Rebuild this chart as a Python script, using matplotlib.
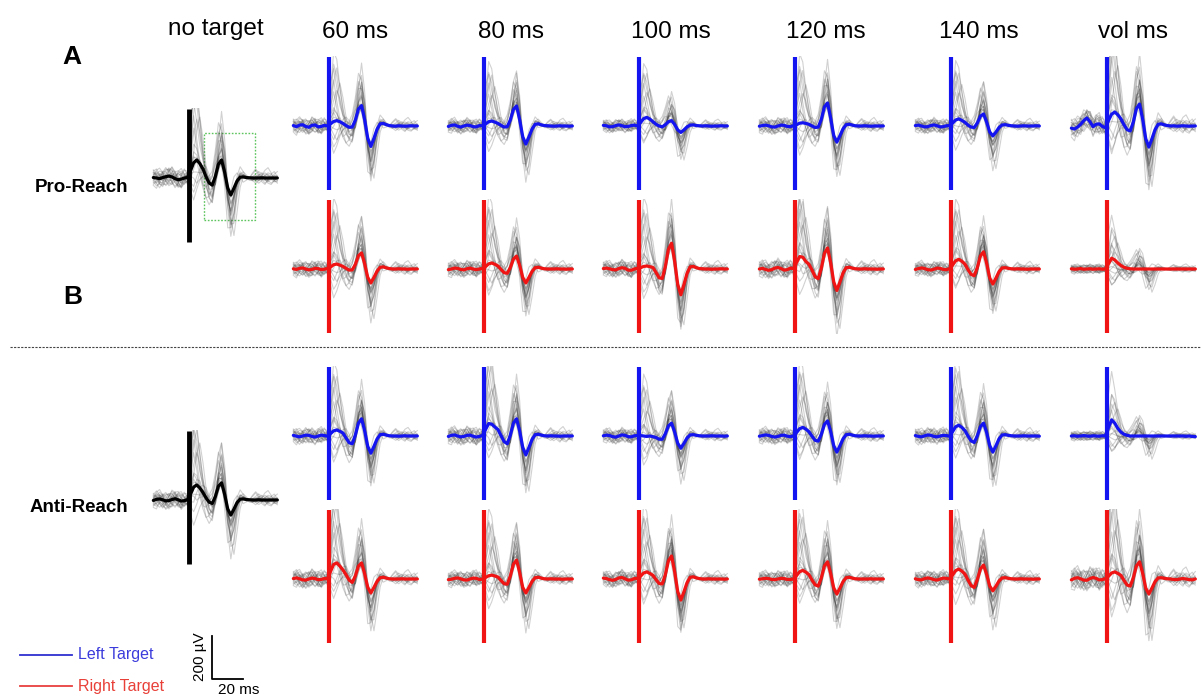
import numpy as np
import matplotlib
matplotlib.use('Agg')
import matplotlib.pyplot as plt
from matplotlib.patches import Rectangle

plt.rcParams['font.family'] = ['Liberation Sans', 'DejaVu Sans']

# ---------------- data ----------------
time_ms = [-23, -21, -19, -17, -15, -13, -11, -9, -7, -5, -3, -1,
           1, 3, 5, 7, 9, 11, 13, 15, 17, 19, 21, 23, 25, 27, 29, 31, 33, 35, 37, 39,
           41, 43, 45, 47, 49, 51, 53, 55, 57]

conditions = ['60 ms', '80 ms', '100 ms', '120 ms', '140 ms', 'vol ms']
row_labels = ['Pro-Reach', 'Anti-Reach']
panel_letters = ['A', 'B']
legend_labels = ['Left Target', 'Right Target']
scale_uv = 200
scale_ms = 20
artifact_uv = (-298, 321)

pro_left_60 = [2, -3, 4, 6, -2, -6, 3, 5, -4, -2, 3, 0, 10, 21, 25, 20, 12, 2, -6, -5, 27, 79, 95, 29, -57, -95, -57, -15, 10, 12, 6, 2, 0, -1, 1, 0, -1, 0, 1, 0, 0]
pro_left_80 = [-2, 3, 5, -1, -5, 0, 4, 2, -3, -4, 2, 1, 9, 20, 23, 18, 12, 3, -5, -3, 28, 77, 93, 29, -50, -84, -50, -14, 8, 10, 5, 2, 1, 0, -1, 0, 1, 0, 0, -1, 0]
pro_left_100 = [3, 1, -4, -3, 2, 5, 1, -3, -2, 2, 4, 0, 16, 34, 40, 32, 20, 8, 0, -4, 6, 20, 25, 7, -18, -30, -18, -4, 4, 5, 2, 1, 0, 1, 0, -1, 0, 0, 1, 0, 0]
pro_left_120 = [-1, 2, 4, 1, -4, -5, 0, 4, 3, -2, -3, 1, 6, 13, 15, 12, 8, 0, -7, -5, 31, 89, 107, 37, -45, -75, -45, -13, 6, 8, 4, 1, 0, 0, 1, 0, -1, 0, 0, 0, 0]
pro_left_140 = [2, 4, 0, -4, -3, 2, 5, 1, -4, -3, 1, 2, 13, 28, 33, 26, 17, 4, -5, -7, 14, 46, 56, 18, -28, -46, -28, -7, 5, 6, 3, 1, 0, -1, 0, 1, 0, 0, 0, 1, 0]
pro_left_vol = [-10, -14, -5, 8, 25, 37, 20, -3, 8, 10, -2, -8, 26, 55, 65, 52, 33, 5, -17, -23, 19, 81, 102, 31, -59, -98, -59, -17, 8, 10, 5, 2, 0, 1, -1, 0, 1, 0, -1, 0, 0]

pro_right_60 = [1, -2, 3, 5, 0, -4, -2, 3, 2, -3, -1, 2, 9, 20, 23, 18, 12, 3, -5, -4, 21, 62, 75, 24, -39, -65, -39, -10, 8, 10, 5, 2, 0, 0, 1, 0, 0, -1, 0, 0, 0]
pro_right_80 = [-3, 0, 4, 3, -2, -4, 1, 4, 0, -3, 0, 2, 11, 24, 28, 22, 14, -2, -17, -20, 7, 46, 60, 17, -39, -65, -39, -11, 6, 8, 4, 1, 0, 0, 0, 1, 0, 0, -1, 0, 0]
pro_right_100 = [2, 4, 1, -3, -4, 2, 6, 3, -5, -6, 0, 3, 6, 12, 14, 11, 7, -16, -41, -44, 12, 92, 120, 36, -72, -120, -72, -20, 10, 12, 6, 2, 1, 0, 0, -1, 0, 0, 1, 0, 0]
pro_right_120 = [0, 3, -2, -6, -3, 4, 7, 2, -5, -3, 4, 2, 30, 58, 55, 35, 22, -5, -36, -45, 4, 73, 98, 29, -60, -100, -60, -18, 6, 8, 4, 1, 0, 0, 1, 0, 0, 0, -1, 0, 0]
pro_right_140 = [-2, 2, 5, 2, -3, -5, -1, 4, 3, -2, -3, 1, 18, 38, 45, 36, 23, -3, -25, -31, 7, 61, 80, 26, -42, -70, -42, -12, 5, 6, 3, 1, 0, 1, 0, 0, -1, 0, 0, 0, 0]
pro_right_vol = [1, -1, 0, 2, -1, 0, 1, -1, 0, 1, -1, 0, 25, 50, 42, 28, 16, 8, 3, 1, 0, 0, 0, 0, 0, 0, 0, 0, 0, 0, 0, 0, 0, 0, 0, 0, 0, 0, 0, 0, 0]

anti_left_60 = [3, -1, -4, 0, 4, 3, -2, -5, 0, 4, 2, -1, 11, 24, 28, 22, 14, -9, -31, -36, 4, 60, 80, 24, -48, -80, -48, -14, 6, 8, 4, 1, 0, 0, -1, 0, 1, 0, 0, 0, 0]
anti_left_80 = [-2, 3, 5, 0, -4, -2, 3, 4, -1, -5, -2, 2, 30, 58, 55, 42, 30, 2, -26, -36, 4, 60, 80, 23, -53, -88, -53, -16, 6, 8, 4, 1, 0, 1, 0, 0, -1, 0, 0, 0, 0]
anti_left_100 = [1, 4, 2, -3, -5, 0, 5, 3, -3, -4, 1, 2, 2, 0, -2, 0, -3, -7, -15, -15, 10, 47, 60, 18, -34, -57, -34, -9, 5, 6, 3, 1, 0, 0, 0, 1, 0, 0, 0, -1, 0]
anti_left_120 = [-1, 2, 5, 3, -2, -5, -2, 3, 4, -1, -3, 0, 16, 34, 40, 32, 20, -1, -20, -24, 8, 54, 70, 21, -45, -75, -45, -13, 6, 8, 4, 1, 0, 0, 1, 0, 0, -1, 0, 0, 0]
anti_left_140 = [2, -2, -4, 1, 5, 3, -2, -4, 0, 3, 2, -1, 20, 43, 50, 40, 25, 0, -23, -30, 1, 44, 60, 16, -45, -75, -45, -13, 5, 6, 3, 1, 0, 0, 0, 1, 0, 0, 0, 0, -1]
anti_left_vol = [0, 1, -1, 0, 2, 0, -1, 1, 0, -1, 1, 0, 40, 75, 60, 35, 18, 8, 3, 0, 0, 0, 0, 0, 0, 0, 0, 0, 0, 0, 0, 0, 0, 0, 0, 0, 0, -1, 0, -2, -3]

anti_right_60 = [2, 5, 1, -4, -5, 0, 4, 2, -3, -2, 2, 1, 35, 68, 75, 60, 42, 20, -5, -16, 14, 60, 75, 24, -39, -65, -39, -11, 6, 8, 4, 1, 0, 0, 0, 1, 0, 0, 0, 0, 0]
anti_right_80 = [-3, -1, 3, 5, 1, -4, -5, 0, 4, 3, -2, -1, 7, 15, 18, 14, 9, -7, -22, -24, 14, 69, 88, 30, -39, -65, -39, -11, 6, 8, 4, 1, 0, 1, 0, 0, 0, -1, 0, 0, 0]
anti_right_100 = [4, 2, -3, -6, -2, 5, 7, 1, -5, -4, 2, 3, 13, 28, 33, 26, 17, -3, -21, -23, 20, 85, 107, 33, -59, -98, -59, -17, 8, 10, 5, 2, 0, 0, 1, 0, 0, 0, 0, -1, 0]
anti_right_120 = [-1, 1, 3, 2, -2, -3, 0, 3, 2, -2, -2, 0, 16, 34, 40, 32, 20, -5, -27, -33, 6, 61, 80, 26, -42, -70, -42, -12, 6, 8, 4, 1, 0, 0, 0, 0, 1, 0, 0, 0, 0]
anti_right_140 = [1, -3, -4, 2, 5, 2, -3, -5, 0, 4, 3, 0, 18, 39, 46, 37, 23, -5, -31, -39, -2, 47, 65, 21, -33, -55, -33, -9, 5, 6, 3, 1, 0, 0, 1, 0, 0, 0, -1, 0, 0]
anti_right_vol = [-4, 3, 6, 1, -5, -6, 2, 7, 3, -4, -3, 2, 13, 28, 33, 26, 17, -7, -28, -33, 6, 61, 80, 26, -42, -70, -42, -12, 5, 6, 3, 1, 0, -2, -3, 0, 2, 0, -3, -4, 0]

notarget_pro = [2, 0, -3, 2, 6, 9, 5, -3, -8, -5, 0, 2, 34, 71, 84, 67, 42, 6, -23, -33, 7, 64, 84, 26, -47, -79, -47, -14, 4, 5, 2, 1, 0, 0, 0, 1, 0, 0, 0, 0, 0]
notarget_anti = [-2, 3, 5, 1, -4, -3, 2, 6, 1, -5, -3, 1, 28, 60, 70, 56, 35, 10, -10, -16, 16, 64, 80, 26, -42, -70, -42, -12, 4, 5, 2, 1, 0, 0, 1, 0, 0, 0, 0, 0, 0]

# single-trial deviations from the mean (µV), read as typical spread of grey traces
trial_dev_0 = [10, 25, 15, -10, -20, -5, 20, 30, 10, -15, -25, -10, 60, 180, 240, 150, 60, 10, -30, -40, -10, 20, 30, 10, -30, -50, -20, 10, 20, 10, 0, -5, -10, 5, 15, 10, -5, -15, -5, 10, 5]
trial_dev_1 = [-15, -30, -20, 5, 25, 30, 10, -15, -25, -10, 15, 20, -40, -80, -50, -10, 20, 40, 30, -10, -30, 20, 60, 40, -40, -90, -60, -10, 15, 5, -5, 0, 5, -5, -10, 0, 10, 15, 5, -10, -15]
trial_dev_2 = [5, -5, -20, -30, -10, 20, 35, 20, -10, -30, -15, 10, 100, 260, 200, 90, 30, -20, -50, -60, -20, 40, 80, 50, -20, -60, -40, 0, 10, 5, -5, 0, 0, 0, 5, 0, -5, 0, 0, 0, 0]
trial_dev_3 = [20, 10, -10, -25, -30, -15, 5, 25, 35, 20, -5, -20, -20, -60, -90, -60, -30, -10, 10, 30, 60, 110, 140, 60, -80, -160, -110, -30, 10, 20, 10, 0, -5, -10, 0, 10, 20, 10, -5, -15, -10]
trial_dev_4 = [-20, -10, 10, 25, 20, 0, -20, -30, -15, 10, 30, 25, 20, 60, 40, 10, -20, -40, -50, -30, 0, 30, 40, 20, -10, -30, -10, 5, 0, -5, 0, 0, 20, 35, 20, -5, -20, -10, 5, 15, 25]
trial_dev_5 = [0, 15, 30, 20, -5, -25, -30, -10, 15, 25, 10, -10, 150, 320, 280, 160, 70, 10, -20, -10, 30, 80, 60, 0, -40, -50, -20, 0, 5, 0, 0, 0, 0, -5, -10, -5, 5, 10, 0, -5, 0]
trial_dev_6 = [-10, -20, -5, 15, 30, 25, 5, -15, -30, -25, 0, 15, -30, -20, 10, 20, 0, -30, -60, -70, -30, 40, 100, 80, -20, -120, -140, -60, -10, 10, 5, 0, 5, 10, 5, -5, -10, -5, 0, 5, 10]
trial_dev_7 = [15, 5, -15, -20, 0, 20, 25, 5, -20, -20, 5, 25, 40, 90, 130, 100, 40, 0, -30, -40, -20, 60, 160, 120, 0, -100, -80, -20, 0, 0, 0, 0, -10, -20, -10, 10, 30, 40, 20, -10, -20]
trial_dev_8 = [-5, 5, 20, 10, -15, -30, -20, 5, 25, 30, 15, -5, 200, 250, 160, 80, 40, 30, 10, -20, -30, -10, 10, 0, -10, -20, -10, 0, 0, 0, 0, 0, 0, 0, 0, 0, 0, 0, 0, 0, 0]
trial_dev_9 = [25, 35, 15, -15, -35, -25, 0, 20, 10, -10, -20, -15, -60, -120, -100, -40, 0, 20, 20, 0, -10, 40, 100, 90, 20, -80, -180, -120, -40, 0, 5, 0, 0, 5, 0, -5, 0, 5, 0, -5, 0]
trial_dev_10 = [-25, -15, 5, 20, 10, -10, -15, 0, 20, 10, -10, -25, 30, 50, 20, -20, -60, -80, -60, -20, 20, 50, 40, 10, -30, -60, -50, -20, 0, 10, 5, 0, -5, 0, 10, 20, 10, -10, -20, -10, 0]
trial_dev_11 = [5, 20, 10, -5, -10, 5, 15, 10, -5, -15, -5, 5, 10, 20, 10, 0, -5, -10, -5, 0, 10, 30, 40, 20, -10, -30, -20, -5, 0, 0, 0, 0, 0, 0, 0, 0, 0, 0, 0, 0, 0]
trial_dev_12 = [30, 10, -20, -35, -15, 15, 40, 25, -10, -35, -20, 15, 80, 140, 60, -20, -60, -40, 0, 30, 50, 30, -20, -40, -30, 10, 40, 30, 0, -20, -10, 0, 15, 30, 10, -15, -25, -5, 15, 25, 5]
trial_dev_13 = [-30, -40, -10, 20, 35, 15, -20, -35, -15, 20, 35, 10, -80, -150, -120, -70, -30, 0, 20, 40, 80, 120, 60, -60, -150, -120, -40, 20, 40, 20, 0, -10, -10, 0, 10, 5, -5, -10, 0, 10, 0]
trial_dev_14 = [10, 30, 40, 20, -15, -35, -25, 0, 30, 40, 15, -15, 120, 200, 100, 20, -40, -80, -90, -60, -10, 30, 20, -20, -60, -80, -40, 0, 15, 10, 0, 0, 0, -10, -20, -10, 10, 20, 15, 0, -10]
trial_dev_15 = [-10, 0, 15, 10, -5, -20, -10, 10, 25, 15, -5, -20, -20, 40, 120, 180, 120, 40, -20, -40, -20, 30, 60, 30, -10, -40, -30, -10, 0, 0, 0, 0, 0, 0, 0, 0, 0, 0, 0, 0, 0]
trial_dev_16 = [0, -20, -35, -20, 10, 30, 25, 0, -25, -30, -5, 20, 40, 60, 30, 0, -10, 0, 30, 60, 100, 150, 100, 0, -60, -100, -90, -40, -10, 0, 5, 0, 5, 15, 25, 15, -5, -20, -25, -10, 5]
trial_dev_17 = [20, 15, 0, -10, -5, 5, 10, 0, -10, -5, 5, 10, -10, -30, -40, -30, -10, 0, 0, -10, -30, -20, 0, 10, 10, 0, -10, -10, 0, 0, 0, 0, 0, 0, 0, 0, 0, 0, 0, 0, 0]

trial_gain_a = [1.2, 0.8, 1.3, 1.0, 0.7, 1.2, 0.9, 1.4, 0.8, 1.1, 0.6, 1.0, 0.9, 1.1, 0.7, 1.0, 1.2, 0.9]
trial_gain_b = [0.9, 1.3, 0.8, 1.4, 1.0, 0.6, 1.2, 1.1, 0.8, 1.3, 0.7, 1.0, 1.1, 0.8, 1.0, 1.2, 0.9, 1.0]
trial_gain_c = [1.3, 0.7, 1.1, 0.9, 1.2, 1.0, 0.8, 1.3, 1.1, 0.8, 1.0, 0.9, 0.8, 1.2, 1.1, 0.9, 1.0, 1.1]
trial_gain_flat = [0.2, 0.0, 0.5, 0.0, 1.5, 0.0, 0.3, 0.0, 2.0, 0.0, 0.2, 0.0, 0.0, 0.3, 0.0, 0.5, 0.0, 0.1]

noise_pro_left = [1.0, 0.9, 0.8, 1.0, 0.9, 1.3]
noise_pro_right = [1.0, 1.0, 1.0, 1.1, 0.9, 0.6]
noise_anti_left = [1.0, 1.1, 0.9, 1.0, 1.0, 0.6]
noise_anti_right = [1.1, 1.0, 1.0, 1.0, 1.0, 1.4]
noise_notarget = [1.2, 1.1]

# ---------------- layout (pixels) ----------------
W, H = 1201, 698
PX_PER_MS = 1.55
UV_PER_PX = 4.65
XLIM = (-25, 60)
YLIM = (-300, 324)
col_stim_x = [329, 484, 639, 795, 951, 1107]
notarget_stim_x = 189
row_base_y = [126, 269, 436, 579]
notarget_base_y = [178, 500]
title_x = [355, 511, 671, 826, 979, 1133]

BLUE = '#1414f0'
RED = '#f01414'

fig = plt.figure(figsize=(W / 100, H / 100), dpi=100)

# overlay axes in pixel space for annotations
ov = fig.add_axes([0, 0, 1, 1])
ov.set_xlim(0, W)
ov.set_ylim(H, 0)
ov.axis('off')

trial_bank = [trial_dev_0, trial_dev_1, trial_dev_2, trial_dev_3, trial_dev_4, trial_dev_5,
              trial_dev_6, trial_dev_7, trial_dev_8, trial_dev_9, trial_dev_10, trial_dev_11,
              trial_dev_12, trial_dev_13, trial_dev_14, trial_dev_15, trial_dev_16, trial_dev_17]


def panel_axes(sx, by):
    left = sx + XLIM[0] * PX_PER_MS
    right = sx + XLIM[1] * PX_PER_MS
    top = by - YLIM[1] / UV_PER_PX
    bottom = by - YLIM[0] / UV_PER_PX
    ax = fig.add_axes([left / W, 1 - bottom / H, (right - left) / W, (bottom - top) / H])
    ax.set_xlim(*XLIM)
    ax.set_ylim(*YLIM)
    ax.axis('off')
    return ax


def draw_panel(ax, mean, color, gains, noise, art_lw=3.0):
    t = np.array(time_ms, dtype=float)
    m = np.array(mean, dtype=float)
    for g, dev in zip(gains, trial_bank):
        ax.plot(t, m * g + noise * np.array(dev, dtype=float),
                color='#404040', alpha=0.24, lw=0.8)
    ax.plot(t, m, color=color, lw=2.3, solid_joinstyle='round', solid_capstyle='round')
    ax.vlines(0, artifact_uv[0], artifact_uv[1], color=color, lw=art_lw)


rows = [
    ([pro_left_60, pro_left_80, pro_left_100, pro_left_120, pro_left_140, pro_left_vol], BLUE, noise_pro_left),
    ([pro_right_60, pro_right_80, pro_right_100, pro_right_120, pro_right_140, pro_right_vol], RED, noise_pro_right),
    ([anti_left_60, anti_left_80, anti_left_100, anti_left_120, anti_left_140, anti_left_vol], BLUE, noise_anti_left),
    ([anti_right_60, anti_right_80, anti_right_100, anti_right_120, anti_right_140, anti_right_vol], RED, noise_anti_right),
]
gain_cycle = [trial_gain_a, trial_gain_b, trial_gain_c]

for r, (means, color, noises) in enumerate(rows):
    for c, mean in enumerate(means):
        ax = panel_axes(col_stim_x[c], row_base_y[r])
        if c == 5 and r in (1, 2):
            gains = trial_gain_flat
        else:
            gains = gain_cycle[(r + c) % 3]
        draw_panel(ax, mean, color, gains, noises[c])

for k, mean in enumerate([notarget_pro, notarget_anti]):
    ax = panel_axes(notarget_stim_x, notarget_base_y[k])
    draw_panel(ax, mean, 'black', gain_cycle[k], noise_notarget[k], art_lw=3.5)
    if k == 0:
        ax.add_patch(Rectangle((9.7, -195), 32.9, 404, fill=False,
                               edgecolor='#5cc45c', lw=1.0, linestyle=(0, (1.2, 1.2))))

# ---------------- text ----------------
def ftext(x, y, s, **kw):
    fig.text(x / W, 1 - y / H, s, **kw)

ftext(216, 29, 'no target', fontsize=17.5, ha='center', va='center')
for x, s in zip(title_x, conditions):
    ftext(x, 32, s, fontsize=17.5, ha='center', va='center')

ftext(72, 57, panel_letters[0], fontsize=19, fontweight='bold', ha='center', va='center')
ftext(73, 297, panel_letters[1], fontsize=19, fontweight='bold', ha='center', va='center')
ftext(128, 187, row_labels[0], fontsize=13.5, fontweight='bold', ha='right', va='center')
ftext(128, 508, row_labels[1], fontsize=13.5, fontweight='bold', ha='right', va='center')

# separator
ov.plot([10, W], [347, 347], color='#444444', lw=0.8, linestyle=(0, (2, 1.2)))

# legend
ov.plot([20, 72], [655, 655], color='#3030d0', lw=1.3)
ov.plot([20, 72], [686, 686], color='#e84040', lw=1.3)
ftext(78, 655, legend_labels[0], fontsize=11.5, color='#3c3cdc', ha='left', va='center')
ftext(78, 686, legend_labels[1], fontsize=11.5, color='#e84038', ha='left', va='center')

# scale bar
sb_x, sb_y = 212, 679
ov.plot([sb_x, sb_x, sb_x + scale_ms * PX_PER_MS],
        [sb_y - scale_uv / UV_PER_PX, sb_y, sb_y], color='black', lw=1.3)
ftext(200, 657, f'{scale_uv} µV', fontsize=11, rotation=90, ha='center', va='center')
ftext(239, 690, f'{scale_ms} ms', fontsize=11, ha='center', va='center')

fig.savefig('out.png', dpi=100)
